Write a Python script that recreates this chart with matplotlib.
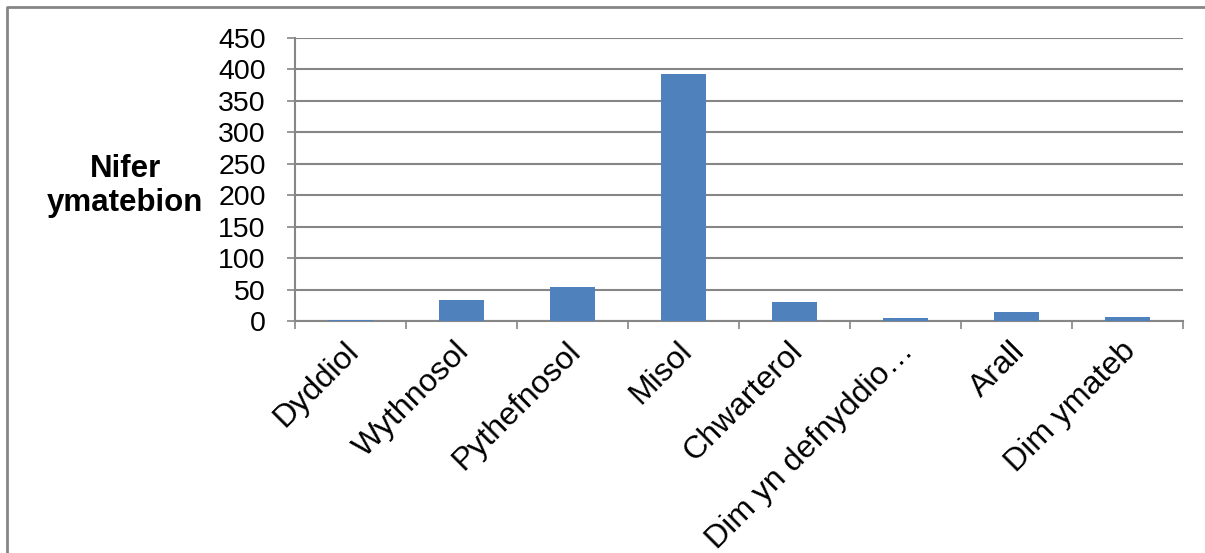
import matplotlib.pyplot as plt
from matplotlib.lines import Line2D

categories = ["Dyddiol", "Wythnosol", "Pythefnosol", "Misol", "Chwarterol",
              "Dim yn defnyddio\u2026", "Arall", "Dim ymateb"]
values = [1, 34, 54, 392, 30, 4, 15, 6]
yticks = list(range(0, 451, 50))

plt.rcParams['font.family'] = ['Liberation Sans', 'DejaVu Sans']

fig = plt.figure(figsize=(12.05, 5.53), dpi=100)
ax = fig.add_axes([295/1205, 1-321/553, 888/1205, 283/553])

grey = '#868686'
x = list(range(len(categories)))
ax.bar(x, values, width=0.4, color='#4F81BD', zorder=3)

ax.set_xlim(-0.5, len(categories)-0.5)
ax.set_ylim(0, 450)
ax.set_yticks(yticks)
ax.tick_params(axis='y', labelsize=20.5, length=6, width=1.2, color=grey, pad=15)
ax.yaxis.grid(True, color=grey, linewidth=1.5, zorder=0)

# ticks at category boundaries, labels at centres
ax.set_xticks([i - 0.5 for i in range(len(categories)+1)])
ax.set_xticklabels([])
ax.tick_params(axis='x', length=6, width=1.2, color=grey)
for i, c in enumerate(categories):
    ax.annotate(c, xy=(i, 0), xycoords=('data', 'axes fraction'),
                xytext=(-5, -11), textcoords='offset points',
                rotation=45, rotation_mode='anchor', ha='right', va='top',
                fontsize=23)

for s in ['top', 'right']:
    ax.spines[s].set_visible(False)
for s in ['left', 'bottom']:
    ax.spines[s].set_color(grey)
    ax.spines[s].set_linewidth(1.5)

fig.text(125/1205, 1-186/553, "Nifer\nymatebion", ha='center', va='center',
         fontsize=22.5, fontweight='bold', linespacing=1.15)

# outer frame (only left and top edges visible)
fx = 7/1205
fy = 1 - 7/553
fig.lines.append(Line2D([fx, fx, 1], [0, fy, fy], transform=fig.transFigure,
                        color=grey, linewidth=2))

fig.savefig('out.png', dpi=100)
